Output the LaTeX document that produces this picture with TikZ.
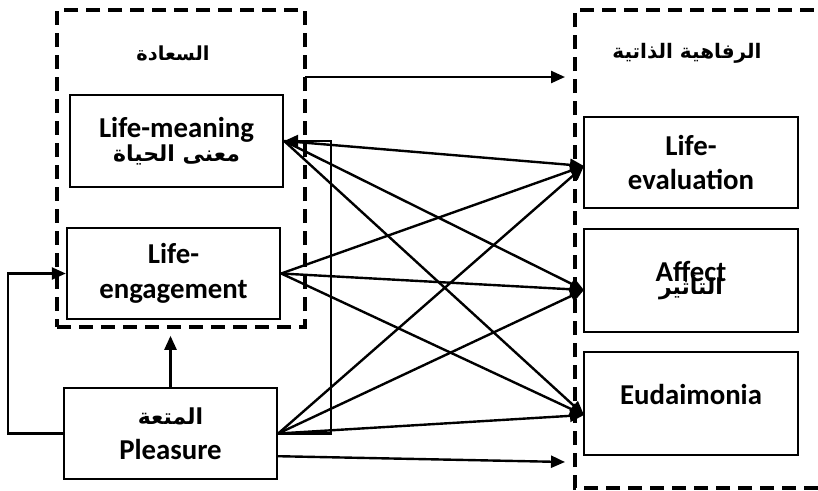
\documentclass[tikz,border=0pt]{standalone}
\usepackage{fontspec}
\setmainfont{Carlito}
\newfontfamily\arabicfont[Script=Arabic]{DejaVu Sans}
\TeXXeTstate=1
\usetikzlibrary{arrows.meta,calc}
\newcommand{\artxt}[2][16]{{\arabicfont\bfseries\fontsize{#1}{#1}\selectfont\beginR #2\endR}}
\begin{document}
\begin{tikzpicture}[x=0.75pt,y=-0.75pt,
  box/.style={draw,line width=1.8pt,inner sep=0pt,align=center,fill=white,
    font=\bfseries\fontsize{21.6}{26}\selectfont},
  dashline/.style={line width=2.4pt,dash pattern=on 10.5pt off 6pt},
  dashbox/.style={draw,dashline,inner sep=0pt},
  arr/.style={line width=1.8pt,-{Triangle[length=10.5pt,width=9pt]}}]
\useasboundingbox (0,0) rectangle (818,490);
\clip (0,0) rectangle (818,490);
% group boxes
\node[dashbox,minimum width=186pt,minimum height=237.75pt] (hap) at (181,168.5) {};
\coordinate (swtl) at (575,10);
\coordinate (swbl) at (575,488);
\draw[dashline] (840,488) -- (swbl) -- (swtl) -- (840,10);
\node (t1) at (173,53) {\artxt[14.5]{السعادة}};
\node (t2) at (687,53) {\artxt[15]{الرفاهية الذاتية}};
% boxes
\node[box,minimum width=159.75pt,minimum height=69pt] (lm) at (176.5,141)
  {Life-meaning\\[-8pt]\artxt[16.5]{معنى الحياة}};
\node[box,minimum width=159.75pt,minimum height=68.25pt] (le) at (173.5,273.5)
  {Life-\\engagement};
\node[box,minimum width=159.75pt,minimum height=68.25pt] (pl) at (170.5,433.5)
  {\artxt[16.5]{المتعة}\\Pleasure};
\node[box,minimum width=160.5pt,minimum height=68.25pt] (lev) at (691,162.5)
  {Life-\\evaluation};
\node[box,minimum width=160.5pt,minimum height=77.25pt] (aff) at (691,280.5)
  {Affect\\[-16pt]\artxt[16.5]{التأثير}};
\node[box,minimum width=160.5pt,minimum height=77.25pt] (eud) at (691,403.5)
  {\raisebox{14pt}{Eudaimonia}};
% target points
\coordinate (levin) at (584,166);
\coordinate (affin) at (584,290);
\coordinate (eudin) at (584,415);
\coordinate (jog) at (331,141);
\coordinate (tops) at (305,77);
\coordinate (tope) at (565,77);
\coordinate (bote) at (565,462);
% connectors
\draw[arr] (tops) -- (tope);
\draw[arr] (pl.north) -- ++(0,-51);
\draw[arr] (pl.west) -- ++(-55,0) |- (le.west);
\draw[arr] (pl.east) -| (jog) -- (lm.east);
\draw[arr] ($(pl.south east)+(0,-24)$) -- (bote);
\foreach \s in {lm,le,pl}{
  \draw[arr] (\s.east) -- (levin);
  \draw[arr] (\s.east) -- (affin);
  \draw[arr] (\s.east) -- (eudin);
}
\end{tikzpicture}
\end{document}
